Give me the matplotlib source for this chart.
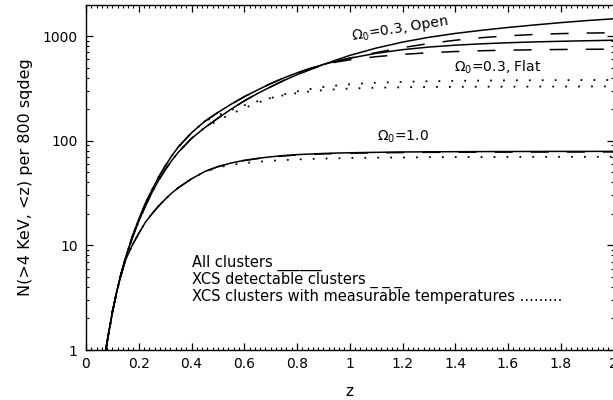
import numpy as np
import matplotlib
matplotlib.use("Agg")
import matplotlib.pyplot as plt
from matplotlib.ticker import MultipleLocator, FixedLocator, FixedFormatter

# redshift grid shared by all curves
z = [0.075, 0.085, 0.1, 0.115, 0.13, 0.15, 0.175, 0.2, 0.225, 0.25, 0.275, 0.3, 0.325,
     0.35, 0.4, 0.45, 0.5, 0.55, 0.6, 0.65, 0.7, 0.75, 0.8, 0.85, 0.9, 0.95, 1.0,
     1.1, 1.2, 1.3, 1.4, 1.5, 1.6, 1.7, 1.8, 1.9, 2.0]

# Omega0 = 0.3, flat
flat_all = [1, 1.41, 2.29, 3.47, 5.01, 7.59, 12.0, 17.8, 25.1, 33.9, 44.7, 57.1, 71.6,
            87.1, 119, 153, 186, 223, 263, 305, 351, 398, 445, 490, 535, 575, 614,
            684, 741, 785, 818, 843, 863, 879, 891, 902, 912]
flat_det = [1, 1.41, 2.29, 3.47, 5.01, 7.59, 12.0, 17.8, 25.1, 33.9, 44.7, 57.1, 71.6,
            87.1, 119, 153, 186, 223, 263, 305, 351, 398, 445, 490, 530, 565, 592,
            635, 668, 693, 711, 724, 733, 739, 744, 747, 750]
flat_tmp = [1, 1.41, 2.29, 3.47, 5.01, 7.59, 12.0, 17.8, 25.1, 33.9, 44.7, 57.1, 71.6,
            87.1, 119, 153, 175, 197, 218, 238, 256, 272, 285, 296, 304, 310, 315,
            321, 324, 326, 327, 328, 328, 329, 329, 330, 330]

# Omega0 = 0.3, open
open_all = [1, 1.41, 2.29, 3.47, 5.01, 7.59, 11.7, 17.0, 23.7, 32.0, 41.7, 52.5, 64.6,
            77.6, 105, 133, 164, 200, 240, 282, 327, 376, 427, 479, 535, 592, 653,
            767, 875, 973, 1059, 1135, 1208, 1276, 1343, 1406, 1462]
open_det = [1, 1.41, 2.29, 3.47, 5.01, 7.59, 11.7, 17.0, 23.7, 32.0, 41.7, 52.5, 64.6,
            77.6, 105, 133, 164, 200, 240, 282, 327, 376, 427, 479, 532, 575, 615,
            695, 775, 848, 912, 965, 1005, 1035, 1055, 1068, 1075]
open_tmp = [1, 1.41, 2.29, 3.47, 5.01, 7.59, 11.7, 17.0, 23.7, 32.0, 41.7, 52.5, 64.6,
            77.6, 105, 133, 156, 180, 205, 230, 255, 277, 296, 312, 326, 337, 346,
            358, 365, 370, 373, 375, 377, 378, 379, 380, 380]

# Omega0 = 1.0
ein_all = [1, 1.41, 2.29, 3.47, 4.90, 7.24, 10.0, 13.0, 16.6, 20.0, 23.7, 27.5, 31.6,
           35.5, 43.2, 50.7, 56.5, 61.2, 64.9, 67.8, 70.1, 72.1, 73.6, 74.6, 75.5, 76.2,
           76.7, 77.4, 78.0, 78.3, 78.5, 78.7, 78.8, 78.9, 79.0, 79.0, 79.1]
ein_det = [1, 1.41, 2.29, 3.47, 4.90, 7.24, 10.0, 13.0, 16.6, 20.0, 23.7, 27.5, 31.6,
           35.5, 43.2, 50.7, 56.4, 61.0, 64.6, 67.4, 69.7, 71.6, 73.0, 74.0, 74.8, 75.4,
           75.9, 76.6, 77.1, 77.4, 77.6, 77.7, 77.8, 77.9, 78.0, 78.0, 78.1]
ein_tmp = [1, 1.41, 2.29, 3.47, 4.90, 7.24, 10.0, 13.0, 16.6, 20.0, 23.7, 27.5, 31.6,
           35.5, 43.2, 50.5, 55.5, 58.7, 61.0, 62.8, 64.2, 65.3, 66.2, 66.9, 67.5, 67.9,
           68.3, 68.8, 69.2, 69.5, 69.7, 69.8, 69.9, 70.0, 70.1, 70.1, 70.2]

xticks = [0, 0.2, 0.4, 0.6, 0.8, 1, 1.2, 1.4, 1.6, 1.8, 2]
xtick_labels = ["0", "0.2", "0.4", "0.6", "0.8", "1", "1.2", "1.4", "1.6", "1.8", "2"]
yticks = [1, 10, 100, 1000]
ytick_labels = ["1", "10", "100", "1000"]

plt.rcParams["font.family"] = ["DejaVu Sans"]
plt.rcParams["mathtext.default"] = "regular"
plt.rcParams["lines.scale_dashes"] = False

fig = plt.figure(figsize=(6.13, 4.0), dpi=100)
ax = fig.add_axes([86 / 613, 50 / 400, 527.5 / 613, 345 / 400])

solid = "-"
dashed = (0, (13, 13))
dotted = (0, (1.3, 8))
lw = 1.1

for all_, det, tmp in [(flat_all, flat_det, flat_tmp),
                       (open_all, open_det, open_tmp),
                       (ein_all, ein_det, ein_tmp)]:
    ax.plot(z, all_, color="black", lw=lw, ls=solid)
    ax.plot(z, det, color="black", lw=lw, ls=dashed)
    ax.plot(z, tmp, color="black", lw=1.3, ls=dotted)

ax.set_yscale("log")
ax.set_xlim(0, 2)
ax.set_ylim(1, 1980)

ax.xaxis.set_major_locator(FixedLocator(xticks))
ax.xaxis.set_major_formatter(FixedFormatter(xtick_labels))
ax.xaxis.set_minor_locator(MultipleLocator(0.02))
ax.yaxis.set_major_locator(FixedLocator(yticks))
ax.yaxis.set_major_formatter(FixedFormatter(ytick_labels))

ax.tick_params(which="both", direction="in", top=True, right=True, labelsize=10)
ax.tick_params(which="major", length=5, width=0.9, pad=5)
ax.tick_params(which="minor", length=2.5, width=0.8)
ax.tick_params(axis="y", which="major", pad=6)
for s in ax.spines.values():
    s.set_linewidth(1.0)

ax.set_xlabel("z", fontsize=11)
ax.set_ylabel("N(>4 KeV, <z) per 800 sqdeg", fontsize=11.5)
ax.xaxis.set_label_coords(0.5, -0.10)
ax.yaxis.set_label_coords(-0.10, 0.5)

ax.text(1.19, 1164, r"$\Omega_0$=0.3, Open", fontsize=10, rotation=9,
        ha="center", va="center")
ax.text(1.56, 505, r"$\Omega_0$=0.3, Flat", fontsize=10, ha="center", va="center")
ax.text(1.20, 108, r"$\Omega_0$=1.0", fontsize=10, ha="center", va="center")

ax.text(0.402, 6.2, "All clusters ______", fontsize=10.5, va="baseline")
ax.text(0.402, 4.27, "XCS detectable clusters _ _ _", fontsize=10.5, va="baseline")
ax.text(0.402, 2.96, "XCS clusters with measurable temperatures .........",
        fontsize=10.5, va="baseline")

fig.savefig("out.png", dpi=100)
